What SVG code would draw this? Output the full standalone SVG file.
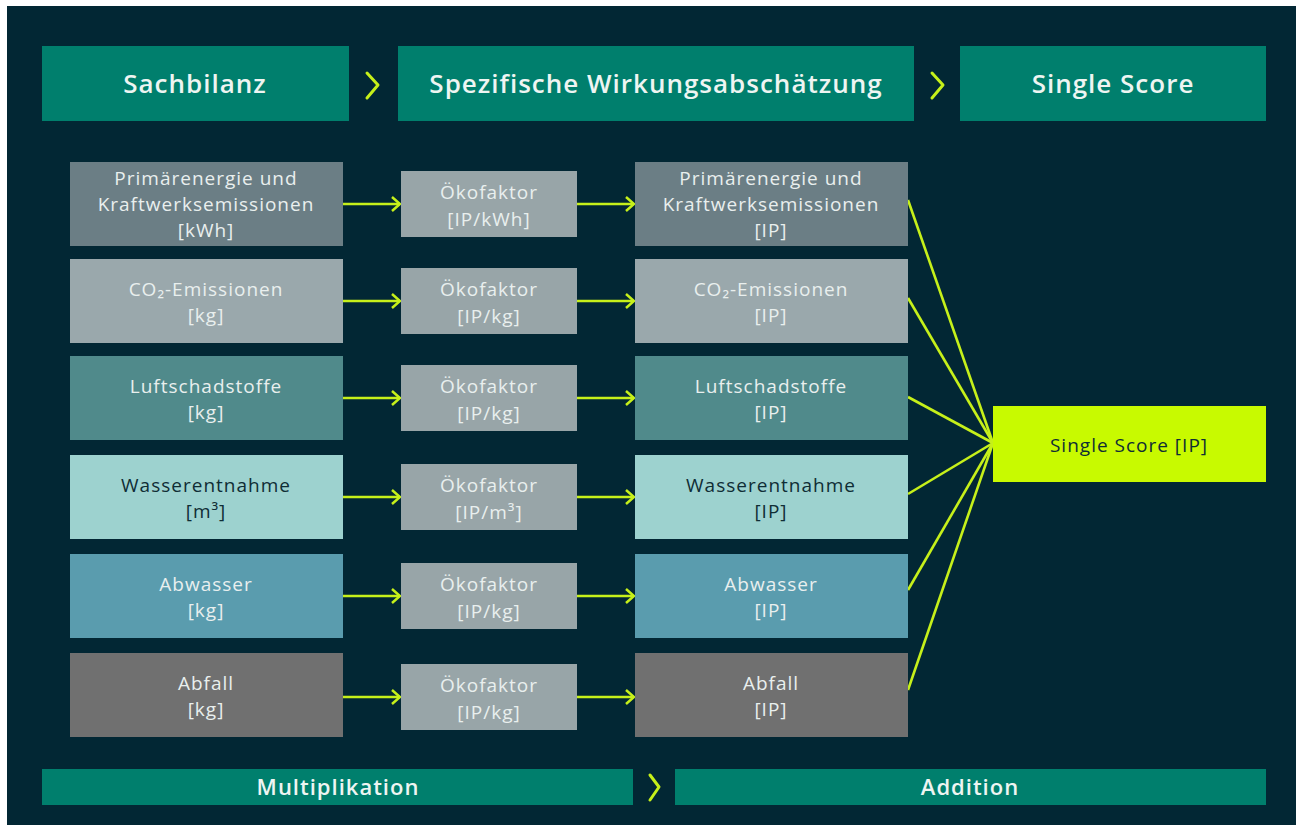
<svg xmlns="http://www.w3.org/2000/svg" width="1296" height="825" viewBox="0 0 1296 825">
<style>
.hdr{fill:#007f6d}
.ht{font-family:"Open Sans","Noto Sans",sans-serif;font-weight:600;font-size:26px;letter-spacing:1px;fill:#eef5f2;text-anchor:middle}
.bt{font-family:"Open Sans","Noto Sans",sans-serif;font-weight:600;font-size:22px;letter-spacing:1px;fill:#eef5f2;text-anchor:middle}
.t{font-family:"Open Sans","Noto Sans",sans-serif;font-size:19px;letter-spacing:1px;fill:#e9efee;text-anchor:middle}
.td{fill:#0f2d35}
.chev{fill:none;stroke:#c6f01a;stroke-width:3;stroke-linecap:round;stroke-linejoin:round}
.ln{fill:none;stroke:#c6f01a;stroke-width:2.6}
.eko{fill:#98a5a8}
</style>
<defs>
<marker id="ah" viewBox="0 0 10 16" refX="9" refY="8" markerWidth="10" markerHeight="16" markerUnits="userSpaceOnUse" orient="auto">
<path d="M1,1 L9,8 L1,15" fill="none" stroke="#c6f01a" stroke-width="2.5"/>
</marker>
</defs>
<rect x="0" y="0" width="1296" height="825" fill="#ffffff"/>
<rect x="7" y="6" width="1289" height="819" fill="#022734"/>

<g id="header-sachbilanz"><rect class="hdr" x="42" y="46" width="307" height="75"/><text class="ht" x="195" y="93">Sachbilanz</text></g>
<g id="header-wirkung"><rect class="hdr" x="398" y="46" width="516" height="75"/><text class="ht" x="656" y="93">Spezifische Wirkungsabschätzung</text></g>
<g id="header-single"><rect class="hdr" x="960" y="46" width="306" height="75"/><text class="ht" x="1113" y="93">Single Score</text></g>
<g id="bar-multiplikation"><rect class="hdr" x="42" y="769" width="591" height="36"/><text class="bt" x="338" y="795">Multiplikation</text></g>
<g id="bar-addition"><rect class="hdr" x="675" y="769" width="591" height="36"/><text class="bt" x="970" y="795">Addition</text></g>

<g id="chevrons">
<path class="chev" d="M367,73 L378,85 L367,98"/>
<path class="chev" d="M932,73 L943,85 L932,98"/>
<path class="chev" d="M650,775 L659,787 L650,800"/>
</g>

<g id="connectors">
<line class="ln" x1="343" y1="204" x2="400" y2="204" marker-end="url(#ah)"/>
<line class="ln" x1="577" y1="204" x2="634" y2="204" marker-end="url(#ah)"/>
<line class="ln" x1="343" y1="301" x2="400" y2="301" marker-end="url(#ah)"/>
<line class="ln" x1="577" y1="301" x2="634" y2="301" marker-end="url(#ah)"/>
<line class="ln" x1="343" y1="398" x2="400" y2="398" marker-end="url(#ah)"/>
<line class="ln" x1="577" y1="398" x2="634" y2="398" marker-end="url(#ah)"/>
<line class="ln" x1="343" y1="497" x2="400" y2="497" marker-end="url(#ah)"/>
<line class="ln" x1="577" y1="497" x2="634" y2="497" marker-end="url(#ah)"/>
<line class="ln" x1="343" y1="596" x2="400" y2="596" marker-end="url(#ah)"/>
<line class="ln" x1="577" y1="596" x2="634" y2="596" marker-end="url(#ah)"/>
<line class="ln" x1="343" y1="697" x2="400" y2="697" marker-end="url(#ah)"/>
<line class="ln" x1="577" y1="697" x2="634" y2="697" marker-end="url(#ah)"/>
<line class="ln" x1="908" y1="200" x2="993" y2="443"/>
<line class="ln" x1="908" y1="298" x2="993" y2="443"/>
<line class="ln" x1="908" y1="397" x2="993" y2="443"/>
<line class="ln" x1="908" y1="494" x2="993" y2="443"/>
<line class="ln" x1="908" y1="590" x2="993" y2="443"/>
<line class="ln" x1="908" y1="690" x2="993" y2="443"/>
</g>

<g id="in-primaer"><rect x="70" y="162" width="273" height="84" fill="#6b7e85"/>
<text class="t" x="206" y="185">Primärenergie und</text><text class="t" x="206" y="211">Kraftwerksemissionen</text><text class="t" x="206" y="237">[kWh]</text></g>
<g id="in-co2"><rect x="70" y="259" width="273" height="84" fill="#9aa8ac"/>
<text class="t" x="206" y="296">CO₂-Emissionen</text><text class="t" x="206" y="322">[kg]</text></g>
<g id="in-luft"><rect x="70" y="356" width="273" height="84" fill="#508a8b"/>
<text class="t" x="206" y="393">Luftschadstoffe</text><text class="t" x="206" y="419">[kg]</text></g>
<g id="in-wasser"><rect x="70" y="455" width="273" height="84" fill="#9dd2cf"/>
<text class="t td" x="206" y="492">Wasserentnahme</text><text class="t td" x="206" y="518">[m³]</text></g>
<g id="in-abwasser"><rect x="70" y="554" width="273" height="84" fill="#5a9cae"/>
<text class="t" x="206" y="591">Abwasser</text><text class="t" x="206" y="617">[kg]</text></g>
<g id="in-abfall"><rect x="70" y="653" width="273" height="84" fill="#707070"/>
<text class="t" x="206" y="690">Abfall</text><text class="t" x="206" y="716">[kg]</text></g>

<g id="eko-1"><rect class="eko" x="401" y="171" width="176" height="66"/><text class="t" x="489" y="199">Ökofaktor</text><text class="t" x="489" y="226">[IP/kWh]</text></g>
<g id="eko-2"><rect class="eko" x="401" y="268" width="176" height="66"/><text class="t" x="489" y="296">Ökofaktor</text><text class="t" x="489" y="323">[IP/kg]</text></g>
<g id="eko-3"><rect class="eko" x="401" y="365" width="176" height="66"/><text class="t" x="489" y="393">Ökofaktor</text><text class="t" x="489" y="420">[IP/kg]</text></g>
<g id="eko-4"><rect class="eko" x="401" y="464" width="176" height="66"/><text class="t" x="489" y="492">Ökofaktor</text><text class="t" x="489" y="519">[IP/m³]</text></g>
<g id="eko-5"><rect class="eko" x="401" y="563" width="176" height="66"/><text class="t" x="489" y="591">Ökofaktor</text><text class="t" x="489" y="618">[IP/kg]</text></g>
<g id="eko-6"><rect class="eko" x="401" y="664" width="176" height="66"/><text class="t" x="489" y="692">Ökofaktor</text><text class="t" x="489" y="719">[IP/kg]</text></g>

<g id="out-primaer"><rect x="635" y="162" width="273" height="84" fill="#6b7e85"/>
<text class="t" x="771" y="185">Primärenergie und</text><text class="t" x="771" y="211">Kraftwerksemissionen</text><text class="t" x="771" y="237">[IP]</text></g>
<g id="out-co2"><rect x="635" y="259" width="273" height="84" fill="#9aa8ac"/>
<text class="t" x="771" y="296">CO₂-Emissionen</text><text class="t" x="771" y="322">[IP]</text></g>
<g id="out-luft"><rect x="635" y="356" width="273" height="84" fill="#508a8b"/>
<text class="t" x="771" y="393">Luftschadstoffe</text><text class="t" x="771" y="419">[IP]</text></g>
<g id="out-wasser"><rect x="635" y="455" width="273" height="84" fill="#9dd2cf"/>
<text class="t td" x="771" y="492">Wasserentnahme</text><text class="t td" x="771" y="518">[IP]</text></g>
<g id="out-abwasser"><rect x="635" y="554" width="273" height="84" fill="#5a9cae"/>
<text class="t" x="771" y="591">Abwasser</text><text class="t" x="771" y="617">[IP]</text></g>
<g id="out-abfall"><rect x="635" y="653" width="273" height="84" fill="#707070"/>
<text class="t" x="771" y="690">Abfall</text><text class="t" x="771" y="716">[IP]</text></g>

<g id="single-score"><rect x="993" y="406" width="273" height="76" fill="#c8fa00"/>
<text class="t td" x="1129" y="452">Single Score [IP]</text></g>
</svg>
